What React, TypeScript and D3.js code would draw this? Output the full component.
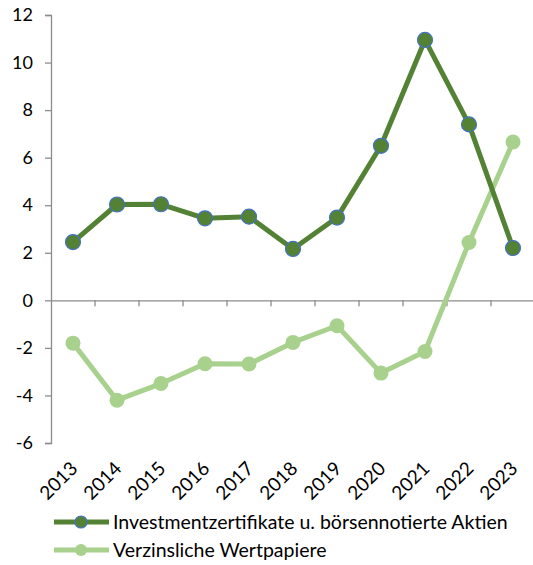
import React, { useEffect, useRef } from "react";
import * as d3 from "d3";

const years = ["2013", "2014", "2015", "2016", "2017", "2018", "2019", "2020", "2021", "2022", "2023"];
const aktien = [2.45, 4.03, 4.04, 3.45, 3.52, 2.16, 3.48, 6.5, 10.95, 7.4, 2.2];
const wertpapiere = [-1.8, -4.2, -3.5, -2.67, -2.68, -1.77, -1.07, -3.06, -2.15, 2.43, 6.66];
const yTicks = [-6, -4, -2, 0, 2, 4, 6, 8, 10, 12];
const seriesNames = ["Investmentzertifikate u. börsennotierte Aktien", "Verzinsliche Wertpapiere"];

const W = 533;
const H = 565;
const FONT = "Lato, 'Open Sans', sans-serif";
const DARK = "#548235";
const LIGHT = "#A9D18E";
const AXIS = "#8c8c8c";

export default function App() {
  const svgRef = useRef<SVGSVGElement>(null);

  useEffect(() => {
    const svg = d3.select(svgRef.current);
    svg.selectAll("*").remove();

    const left = 51, right = 535, top = 15, bottom = 443;

    const x = d3.scaleBand().domain(years).range([left, right]);
    const y = d3.scaleLinear().domain([-6, 12]).range([bottom, top]);
    const cx = (i: number) => (x(years[i]) as number) + x.bandwidth() / 2;

    // y axis
    const yAxis = d3.axisLeft(y).tickValues(yTicks).tickSize(6).tickPadding(12).tickFormat((d) => String(d));
    const gy = svg.append("g").attr("transform", `translate(${left},0)`).call(yAxis);
    gy.select(".domain").attr("stroke", AXIS).attr("stroke-width", 1.3);
    gy.selectAll(".tick line").attr("stroke", AXIS).attr("stroke-width", 1.3);
    gy.selectAll(".tick text")
      .attr("fill", "#000")
      .style("font-family", FONT)
      .style("font-size", "18px");

    // x axis at zero
    const xAxis = d3.axisBottom(x).tickValues([]).tickSizeOuter(0);
    const gx = svg.append("g").attr("transform", `translate(0,${y(0)})`).call(xAxis);
    gx.select(".domain").attr("stroke", AXIS).attr("stroke-width", 1.3);
    gx.selectAll(".bnd")
      .data(years.slice(1))
      .join("line")
      .attr("x1", (d) => x(d) as number)
      .attr("x2", (d) => x(d) as number)
      .attr("y1", 0)
      .attr("y2", 6)
      .attr("stroke", AXIS)
      .attr("stroke-width", 1.3);

    // x labels at bottom
    svg
      .append("g")
      .selectAll("text")
      .data(years)
      .join("text")
      .attr("transform", (d, i) => `translate(${cx(i) + 1},${bottom + 22}) rotate(-45)`)
      .attr("text-anchor", "end")
      .attr("dy", "0.35em")
      .style("font-family", FONT)
      .style("font-size", "19px")
      .text((d) => d);

    const lineGen = d3
      .line<number>()
      .x((d, i) => cx(i))
      .y((d) => y(d));

    // light series (drawn beneath)
    svg.append("path").datum(wertpapiere).attr("d", lineGen).attr("fill", "none")
      .attr("stroke", LIGHT).attr("stroke-width", 5).attr("stroke-linejoin", "round");
    svg.append("g").selectAll("circle").data(wertpapiere).join("circle")
      .attr("cx", (d, i) => cx(i)).attr("cy", (d) => y(d)).attr("r", 7.5).attr("fill", LIGHT);

    // dark series
    svg.append("path").datum(aktien).attr("d", lineGen).attr("fill", "none")
      .attr("stroke", DARK).attr("stroke-width", 5).attr("stroke-linejoin", "round");
    svg.append("g").selectAll("circle").data(aktien).join("circle")
      .attr("cx", (d, i) => cx(i)).attr("cy", (d) => y(d)).attr("r", 7.5)
      .attr("fill", DARK).attr("stroke", "#4472C4").attr("stroke-width", 1.2);

    // legend
    const legend = svg.append("g");
    const rows = [
      { name: seriesNames[0], color: DARK, stroke: "#4472C4" },
      { name: seriesNames[1], color: LIGHT, stroke: "none" },
    ];
    rows.forEach((r, i) => {
      const ly = 522 + i * 28;
      legend.append("line").attr("x1", 54).attr("x2", 109).attr("y1", ly).attr("y2", ly)
        .attr("stroke", r.color).attr("stroke-width", 5);
      legend.append("circle").attr("cx", 81).attr("cy", ly).attr("r", 6)
        .attr("fill", r.color).attr("stroke", r.stroke).attr("stroke-width", 1.2);
      legend.append("text").attr("x", 113).attr("y", ly).attr("dy", "0.35em")
        .style("font-family", FONT).style("font-size", "19.5px").text(r.name);
    });
  }, []);

  return (
    <svg
      ref={svgRef}
      width={W}
      height={H}
      style={{ position: "absolute", left: 0, top: 0, background: "#fff" }}
    />
  );
}
